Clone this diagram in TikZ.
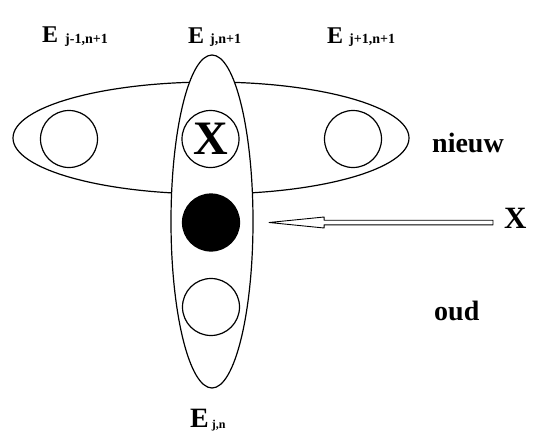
\documentclass[tikz,border=0pt]{standalone}
\usepackage{fontspec}
\setmainfont{Liberation Serif}
\usetikzlibrary{shapes,positioning,calc}
\tikzset{>=latex}
\tikzset{
	cel/.style={draw,circle,line width=1.2pt,minimum size=57pt,inner sep=0pt},
	lab/.style={inner sep=0pt,anchor=base west},
	groot/.style={font=\fontsize{#1}{#1}\bfseries\selectfont},
}
% E with a small subscript: size of E, gap, size of subscript, subscript
\newcommand{\Elab}[4]{\bfseries{\fontsize{#1}{#1}\selectfont E}\hspace{#2pt}\raisebox{-1pt}{\fontsize{#3}{#3}\selectfont #4}}

\begin{document}
\begin{tikzpicture}[x=1pt,y=-1pt]
	\useasboundingbox (0,0) rectangle (534,436);
	% the two groups
	\node[draw,ellipse,line width=1.2pt,minimum width=396pt,minimum height=112pt,inner sep=0pt] (nieuwe) at (211,138) {};
	\node[draw,ellipse,fill=white,line width=1.2pt,minimum width=82pt,minimum height=333pt,inner sep=0pt] (kolom) at (212,221.5) {};
	% the points
	\node[cel] (links) at (69,139) {};
	\node[cel] (rechts) at (353,139) {};
	\node[cel,groot=48] (midden) at (210.5,139) {X};
	\node[cel,fill=black] (zwart) at (211,222.5) {};
	\node[cel] (onder) at (211,307) {};
	% labels
	\node[lab] (Ejm) at (42,42) {\Elab{24}{7}{14}{j-1,n+1}};
	\node[lab] (Ej) at (188,43) {\Elab{24}{6}{14}{j,n+1}};
	\node[lab] (Ejp) at (327,43) {\Elab{24}{6}{14}{j+1,n+1}};
	\node[lab] (Ejn) at (190,427) {\Elab{28}{3}{12}{j,n}};
	\node[lab,groot=28] (nieuw) at (432,152) {nieuw};
	\node[lab,groot=28] (oud) at (434,320) {oud};
	\node[lab,groot=31] (xin) at (504,228) {X};
	% hollow arrow
	\coordinate (tip) at ($(zwart.east)+(29,0)$);
	\coordinate (staart) at ($(xin.west |- tip)+(-11,0)$);
	\draw[line width=0.9pt,line join=round,fill=white] (tip) -- ++(55,-5.5) -- ++(0,3.2) -- ($(staart)+(0,-2.3)$) -- ($(staart)+(0,2.3)$) -- ($(tip)+(55,2.3)$) -- ($(tip)+(55,5.5)$) -- cycle;
\end{tikzpicture}
\end{document}
